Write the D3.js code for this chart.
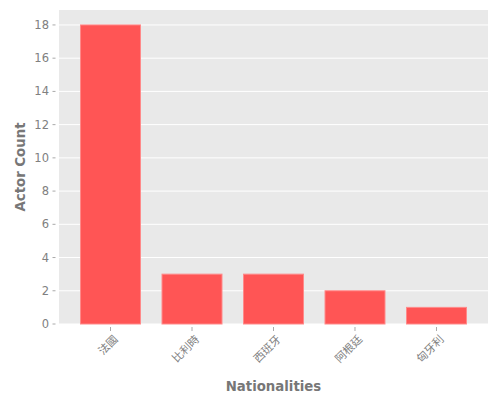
<!DOCTYPE html>
<html>
<head>
    <title>actors</title>
    <script src="https://d3js.org/d3.v7.min.js"></script>
    <style>
        body { margin: 0; background: #fff; }
        .grid line { stroke: #fff; stroke-width: 1; }
        .tick-label { fill: #808080; font-family: "DejaVu Sans", sans-serif; font-size: 11.5px; }
        .cat-label { fill: #808080; font-family: "Noto Sans CJK TC", sans-serif; font-size: 11px; }
        .axis-title { fill: #777; font-family: "DejaVu Sans", sans-serif; font-size: 13.3px; font-weight: bold; }
        .bar { fill: #ff5555; stroke: #ff8a8a; stroke-width: 1; }
    </style>
</head>
<body>
<script>
    var categories = ["法國", "比利時", "西班牙", "阿根廷", "匈牙利"];
    var counts = [18, 3, 3, 2, 1];
    var yTicks = [0, 2, 4, 6, 8, 10, 12, 14, 16, 18];

    var width = 500, height = 400;
    var plotLeft = 59, plotRight = 488, plotTop = 10, plotBottom = 324;

    var svg = d3.select("body").append("svg")
        .attr("width", width)
        .attr("height", height);

    var x = d3.scaleBand()
        .domain(categories)
        .range([plotLeft, plotRight])
        .paddingInner(0.264)
        .paddingOuter(0.264);

    var y = d3.scaleLinear()
        .domain([0, d3.max(counts) * 1.05])
        .range([plotBottom, plotTop]);

    // panel
    svg.append("rect")
        .attr("x", plotLeft).attr("y", plotTop)
        .attr("width", plotRight - plotLeft).attr("height", plotBottom - plotTop)
        .attr("fill", "#e9e9e9");

    // grid
    svg.append("g").attr("class", "grid")
        .selectAll("line")
        .data(yTicks).enter().append("line")
        .attr("x1", plotLeft).attr("x2", plotRight)
        .attr("y1", function (d) { return y(d); })
        .attr("y2", function (d) { return y(d); });

    // bars
    svg.selectAll(".bar")
        .data(counts).enter().append("rect")
        .attr("class", "bar")
        .attr("x", function (d, i) { return x(categories[i]); })
        .attr("width", x.bandwidth())
        .attr("y", function (d) { return y(d); })
        .attr("height", function (d) { return y(0) - y(d); });

    // y ticks
    var yt = svg.append("g").selectAll("g")
        .data(yTicks).enter().append("g")
        .attr("transform", function (d) { return "translate(0," + y(d) + ")"; });
    yt.append("line")
        .attr("x1", plotLeft - 6.5).attr("x2", plotLeft - 3.5)
        .attr("stroke", "#aaa").attr("stroke-width", 1);
    yt.append("text")
        .attr("class", "tick-label")
        .attr("x", plotLeft - 10)
        .attr("dy", "0.35em")
        .attr("text-anchor", "end")
        .text(function (d) { return d; });

    // x ticks
    var xt = svg.append("g").selectAll("g")
        .data(categories).enter().append("g")
        .attr("transform", function (d) { return "translate(" + (x(d) + x.bandwidth() / 2) + "," + plotBottom + ")"; });
    xt.append("line")
        .attr("y1", 3).attr("y2", 7)
        .attr("stroke", "#aaa").attr("stroke-width", 1);
    xt.append("text")
        .attr("class", "cat-label")
        .attr("text-anchor", "end")
        .attr("transform", "translate(8,16) rotate(-45)")
        .text(function (d) { return d; });

    svg.append("text")
        .attr("class", "axis-title")
        .attr("text-anchor", "middle")
        .attr("x", (plotLeft + plotRight) / 2)
        .attr("y", 391)
        .text("Nationalities");

    svg.append("text")
        .attr("class", "axis-title")
        .attr("text-anchor", "middle")
        .attr("transform", "translate(25," + ((plotTop + plotBottom) / 2) + ") rotate(-90)")
        .text("Actor Count");
</script>
</body>
</html>
